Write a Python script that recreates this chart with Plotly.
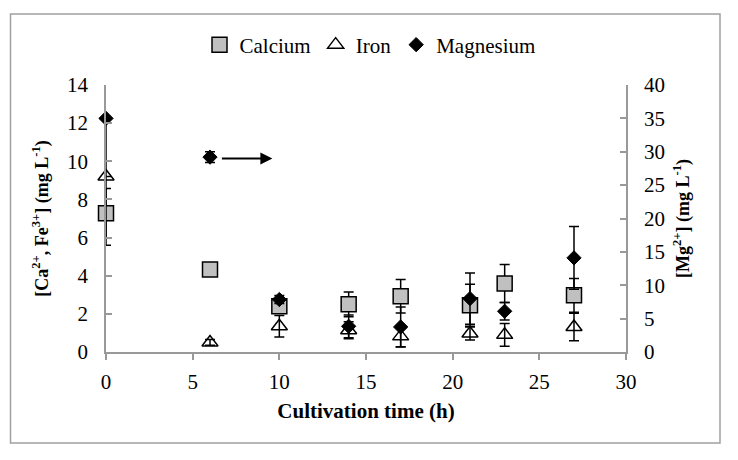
import plotly.graph_objects as go

time_h = [0, 6, 10, 14, 17, 21, 23, 27]
calcium = [7.27, 4.33, 2.40, 2.50, 2.92, 2.45, 3.59, 2.97]
calcium_err = [1.3, 0.0, 0.15, 0.65, 0.88, 1.1, 1.0, 0.88]
iron = [9.2, 0.5, 1.35, 1.14, 0.82, 0.97, 0.9, 1.31]
iron_err = [0.0, 0.15, 0.57, 0.45, 0.55, 0.34, 0.6, 0.72]
magnesium = [35.0, 29.2, 7.86, 3.85, 3.75, 8.0, 6.1, 14.1]
mg_err_plus = [0.0, 0.8, 0.6, 1.7, 3.0, 3.85, 1.3, 4.7]
mg_err_minus = [19.0, 0.8, 0.6, 1.7, 3.0, 3.85, 1.3, 4.7]

arrow_from = (6.6, 10.15)
arrow_to = (9.6, 10.15)

FONT = "Liberation Serif, Times New Roman, DejaVu Serif, serif"
AXC = "#999999"

fig = go.Figure()
eb = dict(type="data", color="black", thickness=1.5, width=5)

fig.add_trace(go.Scatter(
    x=time_h, y=calcium, name="Calcium", mode="markers", cliponaxis=False,
    marker=dict(symbol="square", size=15, color="#c0c0c0", line=dict(color="black", width=1.5)),
    error_y=dict(array=calcium_err, **eb),
))
fig.add_trace(go.Scatter(
    x=time_h, y=iron, name="Iron", mode="markers", cliponaxis=False,
    marker=dict(symbol="triangle-up-open", size=14, color="black", line=dict(color="black", width=1.5)),
    error_y=dict(array=iron_err, **eb),
))
fig.add_trace(go.Scatter(
    x=time_h, y=magnesium, name="Magnesium", mode="markers", yaxis="y2", cliponaxis=False,
    marker=dict(symbol="diamond", size=11, color="black", line=dict(color="black", width=1)),
    error_y=dict(array=mg_err_plus, arrayminus=mg_err_minus, symmetric=False, **eb),
))

fig.add_annotation(
    x=arrow_to[0], y=arrow_to[1], ax=arrow_from[0], ay=arrow_from[1],
    xref="x", yref="y", axref="x", ayref="y", text="",
    showarrow=True, arrowhead=2, arrowsize=1.2, arrowwidth=2, arrowcolor="black",
)

axis_common = dict(
    showline=True, linecolor=AXC, linewidth=1.5, showgrid=False, zeroline=False,
    tickcolor=AXC, ticklen=6, tickwidth=1.5,
    tickfont=dict(size=21, color="black"),
)

OFF = 8  # page body margin
W, H = 730, 452
# target plot area in window coords: x 106..626, y 85..352
L = 106 - OFF
T = 85 - OFF
R = (W + OFF) - 626
B = (H + OFF) - 352
pw, ph = W - L - R, H - T - B


def px(xw):
    return (xw - 106) / pw


def py(yw):
    return (352 - yw) / ph


fig.update_layout(
    width=W, height=H,
    margin=dict(l=L, r=R, t=T, b=B, autoexpand=False),
    paper_bgcolor="white", plot_bgcolor="white",
    showlegend=True,
    font=dict(family=FONT, color="black"),
    legend=dict(
        orientation="h", x=px(370), xanchor="center", y=py(45), yanchor="middle",
        font=dict(size=21, color="black"), itemwidth=30,
        bgcolor="rgba(0,0,0,0)",
    ),
    xaxis=dict(
        range=[0, 30], dtick=5, ticks="outside", ticklabelstandoff=4, **axis_common,
        title=dict(text="<b>Cultivation time (h)</b>", font=dict(size=21, color="black"), standoff=10),
    ),
    yaxis=dict(
        range=[0, 14], dtick=2, ticks="inside", ticklabelstandoff=12, **axis_common,
        title=dict(text="<b>[Ca<sup>2+</sup>, Fe<sup>3+</sup>] (mg L<sup>-1</sup>)</b>",
                   font=dict(size=18, color="black"), standoff=14),
    ),
    yaxis2=dict(
        range=[0, 40], dtick=5, ticks="inside", overlaying="y", side="right", ticklabelstandoff=12,
        **axis_common,
        title=dict(text="<b>[Mg<sup>2+</sup>] (mg L<sup>-1</sup>)</b>",
                   font=dict(size=18, color="black"), standoff=12),
    ),
    shapes=[dict(
        type="rect", xref="paper", yref="paper",
        x0=px(10.5), x1=px(720), y0=py(443), y1=py(14),
        line=dict(color="#a0a0a0", width=1.5), fillcolor="rgba(0,0,0,0)", layer="below",
    )],
)

fig.write_html("out.html")
